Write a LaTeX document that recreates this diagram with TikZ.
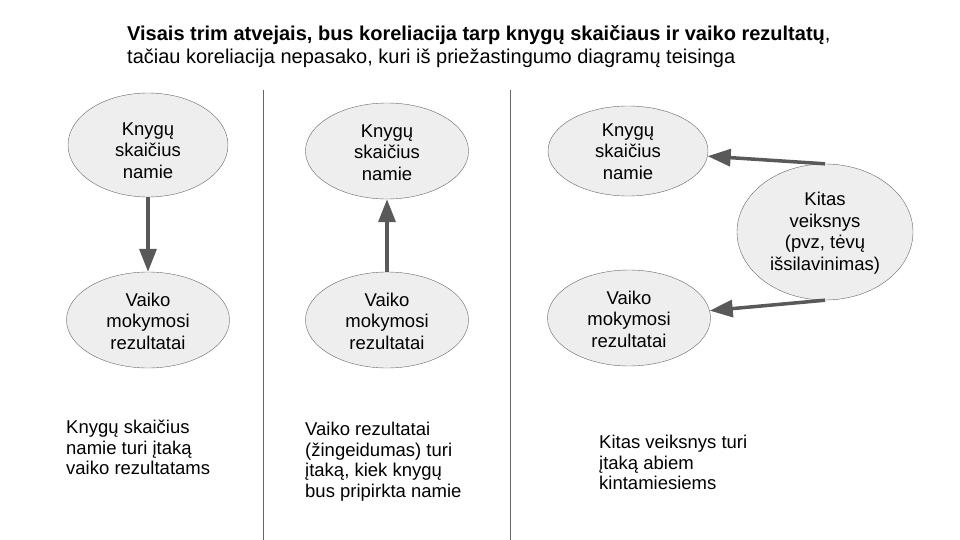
\documentclass[tikz,border=0pt]{standalone}
\usepackage{fontspec}
\setmainfont{Liberation Sans}
\usetikzlibrary{shapes.geometric,arrows.meta}
\definecolor{ellfill}{HTML}{EEEEEE}
\definecolor{ellline}{HTML}{666666}
\definecolor{arrcol}{HTML}{595959}
\newcommand{\downby}[1]{\rule{0pt}{#1}}
\tikzset{
	txt/.style={align=left,anchor=north west,inner sep=0pt,font=\fontsize{18.5}{20.5}\selectfont},
	arr/.style={draw=arrcol,line width=3.5pt,-{Triangle[length=23pt,width=17pt]}}
}
\begin{document}
\begin{tikzpicture}[x=1pt,y=-1pt]
		\useasboundingbox (0,0) rectangle (960,540);
		\begin{scope}[every node/.style={ellipse,draw=ellline,fill=ellfill,
			inner sep=0pt,align=center,font=\fontsize{18.5}{21.5}\selectfont,
			minimum width=163pt,minimum height=96pt}]
		\node (K1) at (148,145) [minimum height=104pt,minimum width=160pt] {\downby{24pt}Knygų\\skaičius\\namie};
		\node (V1) at (148,320) {\downby{16pt}Vaiko\\mokymosi\\rezultatai};
		\node (K2) at (387,151) {\downby{16pt}Knygų\\skaičius\\namie};
		\node (V2) at (387,320) {\downby{16pt}Vaiko\\mokymosi\\rezultatai};
		\node (K3) at (628,151) [minimum width=160pt,minimum height=90pt] {\downby{14pt}Knygų\\skaičius\\namie};
		\node (V3) at (629,318) {\downby{16pt}Vaiko\\mokymosi\\rezultatai};
		\node (F) at (825,232) [minimum width=176pt,minimum height=136pt] {\downby{16pt}Kitas\\veiksnys\\(pvz, tėvų\\išsilavinimas)};
		\end{scope}
		
		\path (K1) edge[arr] (V1);
		\path (V2) edge[arr] (K2);
		\path (F.north) edge[arr] (K3);
		\path (F.south) edge[arr] (V3);
		
		% skirtukai
		\coordinate (L1a) at (263,90);
		\coordinate (L1b) at (263,540);
		\coordinate (L2a) at (510,90);
		\coordinate (L2b) at (510,540);
		\draw[ellline] (L1a) -- (L1b);
		\draw[ellline] (L2a) -- (L2b);
		
		\node (T) at (127,25) [txt,font=\fontsize{20}{23}\selectfont] {\textbf{Visais trim atvejais, bus koreliacija tarp knygų skaičiaus ir vaiko rezultatų},\\tačiau koreliacija nepasako, kuri iš priežastingumo diagramų teisinga};
		\node (A1) at (66,420) [txt] {Knygų skaičius\\namie turi įtaką\\vaiko rezultatams};
		\node (A2) at (305,422) [txt] {Vaiko rezultatai\\(žingeidumas) turi\\įtaką, kiek knygų\\bus pripirkta namie};
		\node (A3) at (599,435) [txt] {Kitas veiksnys turi\\įtaką abiem\\kintamiesiems};
\end{tikzpicture}
\end{document}
